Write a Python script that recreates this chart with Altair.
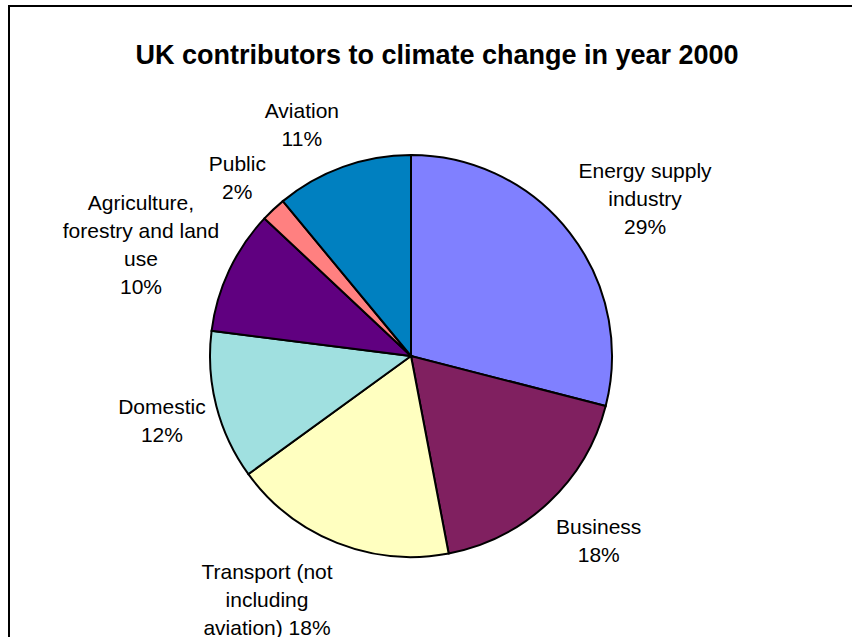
import altair as alt
import pandas as pd

# ---- data ----
sectors = [
    "Energy supply\nindustry",
    "Business",
    "Transport (not\nincluding\naviation)",
    "Domestic",
    "Agriculture,\nforestry and land\nuse",
    "Public",
    "Aviation",
]
shares = [29, 18, 18, 12, 10, 2, 11]
pct_sep = ["\n", "\n", " ", "\n", "\n", "\n", "\n"]
colors = ["#8080FF", "#802060", "#FFFFC0", "#A0E0E0", "#600080", "#FF8080", "#0080C0"]
title_text = "UK contributors to climate change in year 2000"

FONT = "Liberation Sans"
FS = 21
LH = 28

# Arial/Helvetica advance widths (1/1000 em) to centre multi-line labels
_W = {" ": 278, "(": 333, ")": 333, ",": 278, "%": 889}
_W.update({d: 556 for d in "0123456789"})
_W.update(dict(zip("ABCDEFGHIJKLMNOPQRSTUVWXYZ",
                   [667, 667, 722, 722, 667, 611, 778, 722, 278, 500, 667, 556, 833,
                    722, 778, 667, 778, 722, 667, 611, 722, 667, 944, 667, 667, 611])))
_W.update(dict(zip("abcdefghijklmnopqrstuvwxyz",
                   [556, 556, 500, 556, 556, 278, 556, 556, 222, 222, 500, 222, 833,
                    556, 556, 556, 556, 333, 500, 278, 556, 500, 722, 500, 500, 500])))


def text_w(s):
    return sum(_W.get(c, 556) for c in s) * FS / 1000.0


labels_txt = [f"{s}{sep}{v}%" for s, sep, v in zip(sectors, pct_sep, shares)]

df = pd.DataFrame({
    "sector": sectors,
    "share": shares,
    "label": labels_txt,
    "order": list(range(len(sectors))),
    "halfw": [max(text_w(l) for l in t.split("\n")) / 2 for t in labels_txt],
    "nlines": [len(t.split("\n")) for t in labels_txt],
})

PAD_TOP = 100
W = 822
H = 2 * (356 - PAD_TOP)

theta_scale = alt.Scale(domain=[0, 100])

base = (
    alt.Chart(df)
    .transform_window(cum="sum(share)", sort=[alt.SortField("order")], frame=[None, 0])
    .transform_calculate(
        start="datum.cum - datum.share",
        end="datum.cum",
        mid="datum.cum - datum.share / 2",
        ang="(datum.cum - datum.share / 2) / 100 * 2 * PI",
    )
    .transform_calculate(
        side="sin(datum.ang) > 0.3 ? 'left' : (sin(datum.ang) < -0.3 ? 'right' : 'center')",
    )
)

pie = base.mark_arc(outerRadius=201, stroke="black", strokeWidth=2).encode(
    theta=alt.Theta("start:Q", scale=theta_scale, stack=None),
    theta2="end:Q",
    color=alt.Color("sector:N", scale=alt.Scale(domain=sectors, range=colors), legend=None),
)

labels = base.mark_text(
    align="center", baseline="top", radius=212, font=FONT, fontSize=FS,
    lineHeight=LH, lineBreak="\n", color="black",
    dx=alt.ExprRef(expr="datum.side == 'left' ? datum.halfw : (datum.side == 'right' ? -datum.halfw : 0)"),
    dy=alt.ExprRef(expr=f"-datum.nlines * {LH} * max(-0.11, 0.37 + 0.66 * cos(datum.ang))"),
).encode(
    theta=alt.Theta("mid:Q", scale=theta_scale, stack=None),
    text="label:N",
)

one = pd.DataFrame({"k": [0]})

frame = alt.Chart(one).mark_rect(fill=None, stroke="black", strokeWidth=2).encode(
    x=alt.value(9), x2=alt.value(2000),
    y=alt.value(6 - PAD_TOP), y2=alt.value(2000),
)

title = alt.Chart(pd.DataFrame({"t": [title_text]})).mark_text(
    font=FONT, fontSize=27, fontWeight="bold", color="black",
    align="center", baseline="middle",
).encode(
    text="t:N", x=alt.value(437), y=alt.value(56 - PAD_TOP),
)

chart = (
    alt.layer(frame, pie, labels, title)
    .properties(
        width=W,
        height=H,
        autosize=alt.AutoSizeParams(type="none"),
        padding={"left": 0, "top": PAD_TOP, "right": 852 - W, "bottom": 637 - PAD_TOP - H},
        background="white",
    )
    .configure_view(stroke=None)
)

chart.save("out.html", embed_options={"renderer": "svg", "actions": False})
